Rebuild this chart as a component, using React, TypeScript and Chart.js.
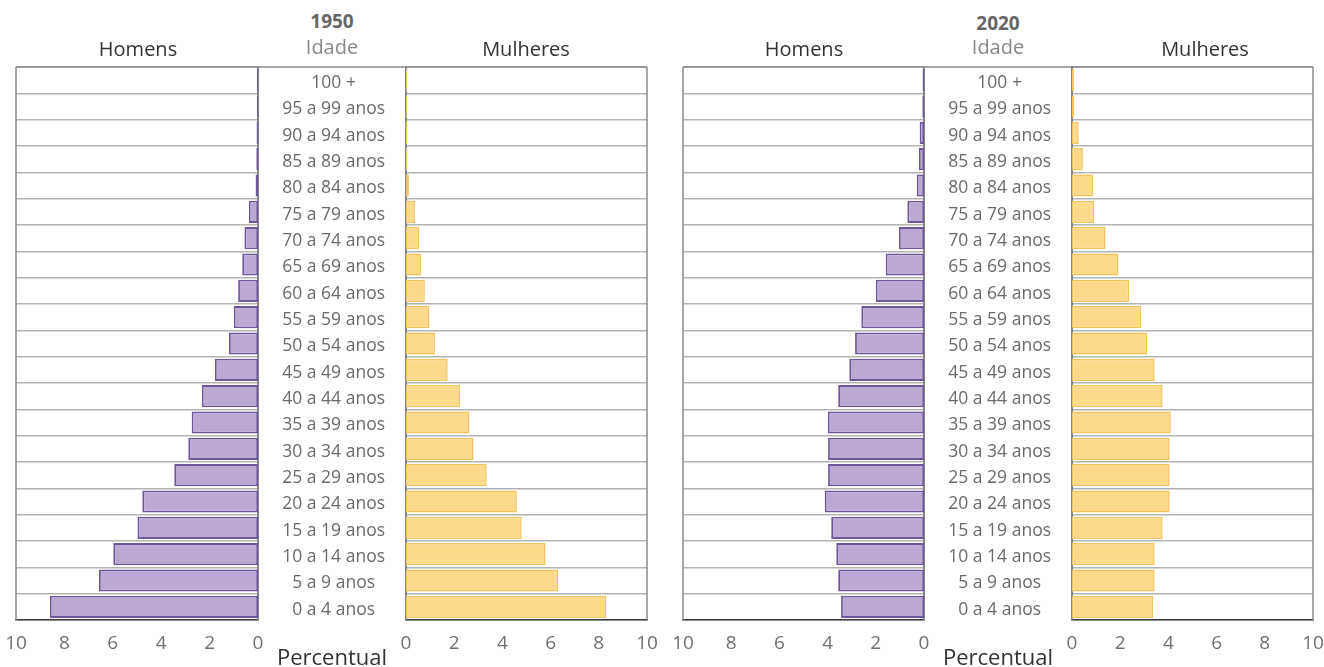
import React, { useEffect, useRef } from 'react';
import { Chart, registerables } from 'chart.js';

Chart.register(...registerables);

// ---------- data ----------
const ageGroups = [
  '100 +', '95 a 99 anos', '90 a 94 anos', '85 a 89 anos', '80 a 84 anos',
  '75 a 79 anos', '70 a 74 anos', '65 a 69 anos', '60 a 64 anos', '55 a 59 anos',
  '50 a 54 anos', '45 a 49 anos', '40 a 44 anos', '35 a 39 anos', '30 a 34 anos',
  '25 a 29 anos', '20 a 24 anos', '15 a 19 anos', '10 a 14 anos', '5 a 9 anos', '0 a 4 anos',
];

const men1950 = [0.05, 0.05, 0.06, 0.07, 0.1, 0.38, 0.56, 0.65, 0.82, 1.0, 1.2, 1.78, 2.32, 2.74, 2.88, 3.46, 4.78, 4.98, 5.98, 6.57, 8.6];
const women1950 = [0.04, 0.04, 0.05, 0.06, 0.12, 0.37, 0.55, 0.62, 0.78, 0.97, 1.2, 1.73, 2.24, 2.63, 2.8, 3.35, 4.6, 4.8, 5.79, 6.31, 8.31];
const men2020 = [0.06, 0.07, 0.18, 0.21, 0.3, 0.69, 1.04, 1.59, 2.0, 2.6, 2.86, 3.1, 3.56, 3.99, 3.98, 3.98, 4.12, 3.85, 3.64, 3.56, 3.44];
const women2020 = [0.08, 0.09, 0.28, 0.45, 0.87, 0.92, 1.39, 1.93, 2.37, 2.87, 3.12, 3.43, 3.76, 4.1, 4.05, 4.05, 4.05, 3.76, 3.43, 3.43, 3.36];

const xTicks = [0, 2, 4, 6, 8, 10];
const years = ['1950', '2020'];
const sexLabels = ['Homens', 'Mulheres'];
const columnTitle = 'Idade';
const axisTitle = 'Percentual';

// ---------- styling / layout ----------
const FONT = "'Open Sans', 'DejaVu Sans', sans-serif";
const CANVAS_TOP = 51;
const CANVAS_H = 603;

const makeFrame = (men: boolean) => ({
  id: 'frame' + (men ? 'M' : 'W'),
  afterDatasetsDraw(chart: any) {
    const { ctx, chartArea: a, scales } = chart;
    ctx.save();
    ctx.strokeStyle = '#8a8a8a';
    ctx.lineWidth = 1.5;
    ctx.beginPath();
    const x0 = men ? a.left : scales.y.left;
    ctx.moveTo(x0, a.top);
    ctx.lineTo(a.right, a.top);
    const xs = men ? a.left : a.right;
    ctx.moveTo(xs, a.top);
    ctx.lineTo(xs, a.bottom);
    ctx.stroke();
    ctx.restore();
  },
});

function HalfChart({ men, values, left, width }: { men: boolean; values: number[]; left: number; width: number }) {
  const ref = useRef<HTMLCanvasElement>(null);
  useEffect(() => {
    const chart = new Chart(ref.current as HTMLCanvasElement, {
      type: 'bar',
      data: {
        labels: ageGroups,
        datasets: [
          {
            data: values,
            backgroundColor: men ? '#bca8d5' : '#fdd98b',
            borderColor: men ? '#6d5699' : '#f2c35c',
            borderWidth: men ? 1.8 : 1.5,
            borderSkipped: false,
            barPercentage: 0.84,
            categoryPercentage: 1,
          } as any,
        ],
      },
      options: {
        indexAxis: 'y',
        responsive: false,
        animation: false,
        layout: {
          padding: men
            ? { left: 16, right: 10, top: 16, bottom: 0 }
            : { left: 0, right: 16, top: 16, bottom: 0 },
        },
        plugins: { legend: { display: false }, tooltip: { enabled: false } },
        scales: {
          x: {
            type: 'linear',
            min: 0,
            max: 10,
            reverse: men,
            position: 'bottom',
            grid: { display: false },
            border: { display: true, color: '#3c3c3c', width: 1.5 },
            ticks: { color: '#707070', font: { family: FONT, size: 19 }, padding: 4 },
            afterBuildTicks: (s: any) => {
              s.ticks = xTicks.map((v) => ({ value: v }));
            },
            afterFit: (s: any) => {
              s.height = 34;
              s.paddingLeft = 0;
              s.paddingRight = 0;
            },
          },
          y: {
            type: 'category',
            position: men ? 'right' : 'left',
            grid: { display: true, offset: true, color: '#b3b3b3', lineWidth: 1.5, drawTicks: false },
            border: { display: true, color: '#858585', width: 2 },
            ticks: {
              display: !men,
              color: '#6a6a6a',
              font: { family: FONT, size: 17.5 },
              crossAlign: 'center',
              padding: 21,
              labelOffset: 3,
            },
            afterFit: (s: any) => {
              s.width = men ? 0 : 148;
              s.paddingTop = 0;
              s.paddingBottom = 0;
            },
          },
        },
      } as any,
      plugins: [makeFrame(men)],
    });
    return () => chart.destroy();
  }, []);
  return (
    <canvas
      ref={ref}
      width={width}
      height={CANVAS_H}
      style={{ position: 'absolute', left, top: CANVAS_TOP, width, height: CANVAS_H }}
    />
  );
}

const Label = ({ text, x, y, size, color, bold }: { text: string; x: number; y: number; size: number; color: string; bold?: boolean }) => (
  <div
    style={{
      position: 'absolute',
      left: x,
      top: y,
      transform: 'translate(-50%, -50%)',
      whiteSpace: 'nowrap',
      lineHeight: 1,
      fontSize: size,
      color,
      fontWeight: bold ? 700 : 400,
      fontFamily: FONT,
    }}
  >
    {text}
  </div>
);

const panels = [
  { year: years[0], men: men1950, women: women1950, menLeft: 0, menWidth: 268, womenLeft: 258, womenWidth: 405, cx: 332, yearY: 21, menX: 138, womenX: 526 },
  { year: years[1], men: men2020, women: women2020, menLeft: 667, menWidth: 267, womenLeft: 924, womenWidth: 405, cx: 998, yearY: 23, menX: 804, womenX: 1205 },
];

export default function App() {
  return (
    <div
      style={{
        position: 'absolute',
        left: 0,
        top: 0,
        width: 1324,
        height: 667,
        overflow: 'hidden',
        background: '#ffffff',
        fontFamily: FONT,
      }}
    >
      {panels.map((p) => (
        <React.Fragment key={p.year}>
          <HalfChart men={true} values={p.men} left={p.menLeft} width={p.menWidth} />
          <HalfChart men={false} values={p.women} left={p.womenLeft} width={p.womenWidth} />
          <Label text={p.year} x={p.cx} y={p.yearY} size={19} color="#666" bold />
          <Label text={columnTitle} x={p.cx} y={47} size={20} color="#888" />
          <Label text={sexLabels[0]} x={p.menX} y={49} size={20} color="#333" />
          <Label text={sexLabels[1]} x={p.womenX} y={49} size={20} color="#333" />
          <Label text={axisTitle} x={p.cx} y={656} size={22} color="#333" />
        </React.Fragment>
      ))}
    </div>
  );
}
